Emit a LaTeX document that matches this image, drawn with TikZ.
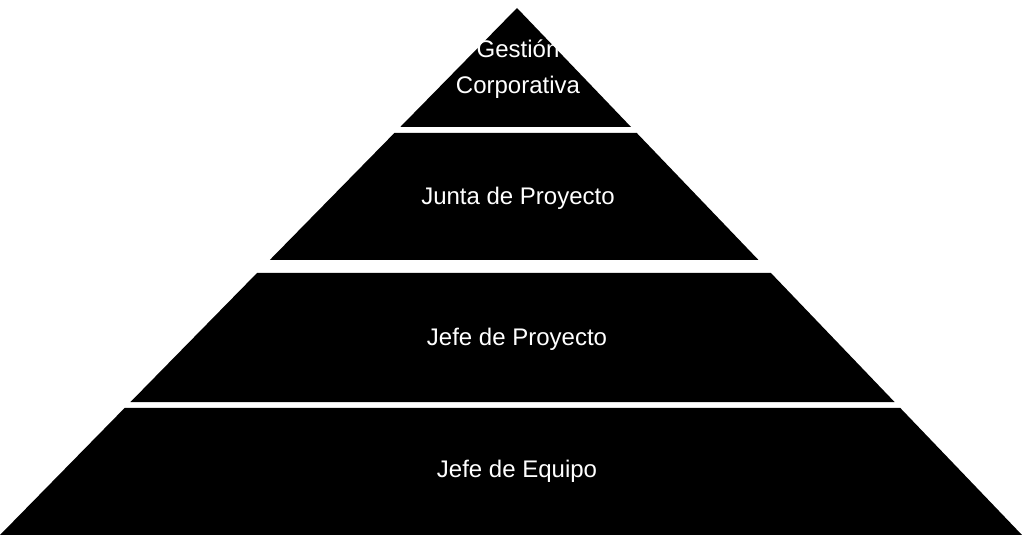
\documentclass[tikz,border=0pt]{standalone}
\usepackage{fontspec}
\setmainfont{Liberation Sans}
\usetikzlibrary{calc}
\begin{document}
\begin{tikzpicture}[x=1pt,y=-1pt,
  layer/.style={fill=black,draw=none},
  lbl/.style={text=white,font=\fontsize{24}{36}\selectfont,align=center,inner sep=0pt}]
\useasboundingbox (0,0) rectangle (1022,535);
\fill[white] (0,0) rectangle (1022,535);
\coordinate (apex) at (517,8);
\coordinate (bl) at (0,535);
\coordinate (br) at (1022,535);
% layer 1
\fill[layer] (apex) -- ($(apex)!{119/527}!(br)$) -- ($(apex)!{119/527}!(bl)$) -- cycle;
% layer 2
\fill[layer] ($(apex)!{125/527}!(bl)$) -- ($(apex)!{125/527}!(br)$) -- ($(apex)!{252/527}!(br)$) -- ($(apex)!{252/527}!(bl)$) -- cycle;
% layer 3
\fill[layer] ($(apex)!{265/527}!(bl)$) -- ($(apex)!{265/527}!(br)$) -- ($(apex)!{394/527}!(br)$) -- ($(apex)!{394/527}!(bl)$) -- cycle;
% layer 4
\fill[layer] ($(apex)!{400/527}!(bl)$) -- ($(apex)!{400/527}!(br)$) -- (br) -- (bl) -- cycle;
\node[lbl] (t1) at (518,69) {Gestión\\Corporativa};
\node[lbl] (t2) at (518,198) {Junta de Proyecto};
\node[lbl] (t3) at (517,339) {Jefe de Proyecto};
\node[lbl] (t4) at (517,471) {Jefe de Equipo};
\end{tikzpicture}
\end{document}
